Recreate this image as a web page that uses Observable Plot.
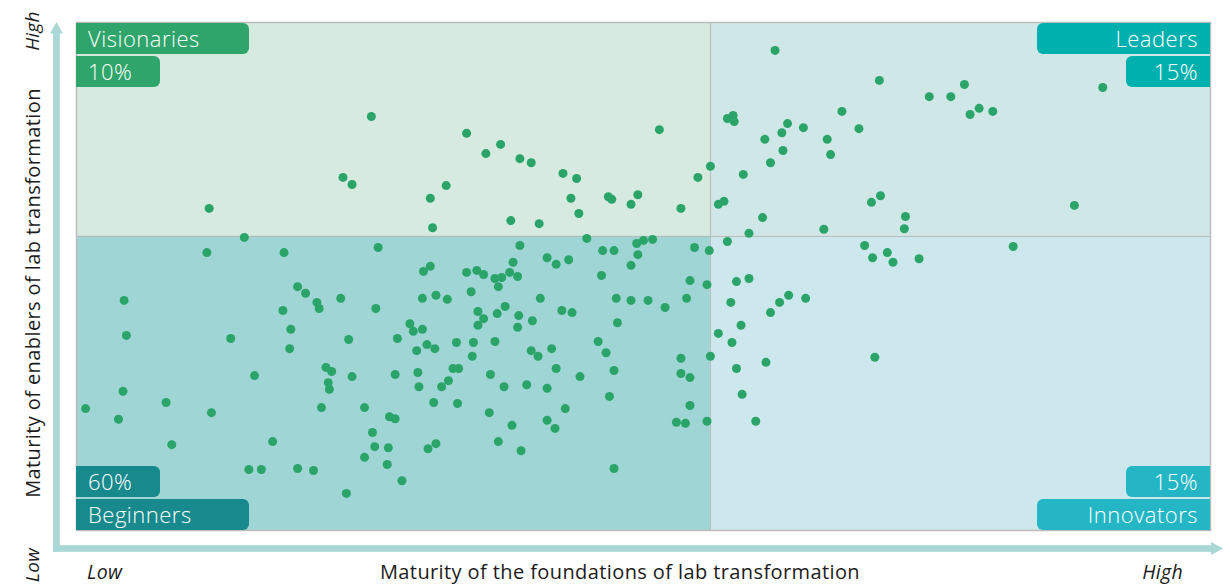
<!DOCTYPE html>
<html><head><meta charset="utf-8">
<script src="https://cdn.jsdelivr.net/npm/d3@7"></script>
<script src="https://cdn.jsdelivr.net/npm/@observablehq/plot@0.6"></script>
<style>
html,body{margin:0;padding:0;background:#fff;}
#chart{width:1230px;height:584px;}
</style>
</head><body><div id="chart"></div>
<script>
// Maturity of the foundations (x) and of the enablers (y), 0–100 scale
const foundations = [
  26.0, 23.5, 24.3, 11.7, 14.8,
  34.4, 36.1, 37.4, 39.1, 40.1, 42.9, 44.1, 43.6, 44.3, 46.9, 47.2, 48.9, 49.5, 51.4, 53.3, 54.8, 55.9, 31.2, 32.6, 31.4, 38.3, 40.8, 45.0, 50.0, 50.8,
  61.6, 70.8, 75.2, 77.1, 78.3, 78.8, 79.6, 80.8, 57.4, 57.9, 58.0, 62.7, 62.2, 64.1, 60.7, 62.3, 61.2, 67.5, 69.0, 66.2, 66.5, 58.8, 56.6, 57.1, 60.5, 59.3, 65.9, 70.1, 70.9, 73.1, 73.0, 57.4,
  90.5, 88.0,
  11.5, 18.3, 26.6, 19.5, 20.2, 21.2, 21.4, 23.3, 18.2, 26.4, 4.2, 4.4, 13.6, 18.9, 18.8, 24.0, 22.0, 22.5, 24.3, 15.7, 28.3, 28.1,
  22.2, 22.3, 4.1, 0.8, 3.7, 7.9, 11.9, 8.4, 17.3, 21.6, 25.4, 27.6, 26.1, 26.3, 27.5, 25.4, 27.4, 15.2, 16.3, 19.5, 20.9, 23.8, 28.1,
  39.1, 41.5, 42.3, 43.4, 38.5, 38.2, 38.9, 34.4, 35.3, 35.9, 36.9, 37.5, 31.2, 30.6, 34.8, 37.2, 46.4, 47.4, 46.3, 49.4, 49.5, 48.9, 54.5, 55.8, 54.1, 53.8, 55.6, 47.6, 48.9, 50.4, 51.9, 47.7, 40.9, 42.8, 43.7, 40.2, 39.0, 38.9, 35.4, 35.9, 37.1, 37.8, 35.4, 31.7, 30.5, 32.7, 30.5, 31.6, 29.4, 29.7, 30.0, 30.9, 33.5, 35.0, 36.9, 34.9, 33.2, 33.7, 32.8, 32.2, 30.1, 30.2, 31.5, 33.6, 36.5, 37.7, 39.7, 41.5, 40.1, 40.7, 41.9, 42.3, 46.0, 46.7, 44.4, 36.4, 38.4, 43.1, 41.5, 42.2, 37.2, 39.2, 47.4, 47.0, 53.3, 53.3, 54.1, 52.9, 53.7, 55.6, 54.1, 47.4, 31.0, 31.7, 28.7,
  69.5, 70.2, 71.5, 72.0, 74.3, 82.6, 58.2, 59.3, 57.7, 61.2, 62.0, 62.8, 64.3, 58.6, 56.6, 57.8, 55.9, 60.8, 58.2, 58.7, 59.9, 70.4
];
const enablers = [
  81.5, 69.5, 68.1, 63.4, 57.7,
  78.2, 74.2, 76.0, 73.2, 72.4, 70.3, 69.3, 65.4, 62.4, 65.7, 65.2, 64.2, 66.1, 78.9, 63.4, 69.5, 71.7, 65.4, 67.9, 59.6, 61.0, 60.4, 57.5, 57.1, 57.3,
  94.5, 88.6, 85.4, 85.4, 87.8, 81.9, 83.1, 82.5, 81.1, 81.7, 80.5, 80.1, 78.3, 79.3, 77.0, 74.8, 72.4, 82.5, 79.1, 77.0, 74.0, 70.1, 64.2, 64.8, 61.6, 58.5, 59.3, 64.6, 65.9, 61.8, 59.4, 56.9,
  87.2, 64.0,
  54.7, 54.7, 55.7, 48.0, 46.7, 44.9, 43.7, 45.7, 43.3, 43.7, 45.3, 38.4, 37.8, 39.6, 35.8, 37.6, 32.1, 31.3, 30.3, 30.5, 37.8, 30.7,
  29.1, 27.8, 27.4, 24.0, 21.9, 25.2, 23.2, 16.9, 17.5, 24.2, 24.2, 22.4, 19.3, 16.5, 16.3, 14.4, 13.0, 12.0, 12.0, 12.2, 11.8, 7.3, 22.0,
  56.1, 53.7, 52.4, 53.3, 52.8, 50.8, 50.0, 50.8, 51.2, 50.4, 49.6, 49.8, 52.0, 51.0, 47.0, 48.0, 55.1, 55.1, 50.2, 56.5, 54.3, 52.2, 55.7, 55.1, 49.2, 45.7, 48.4, 45.7, 45.3, 45.3, 43.9, 40.9, 45.7, 43.3, 42.9, 41.3, 42.3, 40.0, 43.1, 41.7, 42.7, 44.1, 40.4, 46.3, 45.7, 45.5, 39.6, 35.8, 40.7, 39.2, 35.4, 36.6, 37.0, 37.0, 37.2, 34.3, 31.9, 31.9, 29.5, 28.3, 31.1, 28.3, 25.2, 25.0, 30.7, 28.3, 28.7, 28.0, 35.4, 34.3, 35.8, 31.9, 37.2, 35.0, 30.3, 23.2, 20.7, 24.0, 21.7, 20.1, 17.5, 15.7, 31.5, 26.4, 33.9, 30.9, 30.1, 21.3, 21.1, 21.5, 24.6, 12.2, 16.1, 17.1, 9.8,
  56.1, 53.7, 54.7, 52.8, 53.5, 55.9, 49.0, 49.6, 44.9, 42.9, 44.9, 46.3, 45.7, 40.4, 38.8, 37.0, 34.3, 33.1, 31.9, 26.8, 21.5, 34.1
];

const quadrantNames  = ["Visionaries", "Leaders", "Beginners", "Innovators"];
const quadrantShares = ["10%", "15%", "60%", "15%"];
const quadrantFills  = ["#d6eadf", "#cfe7e6", "#9fd5d4", "#cde8ec"];
const labelFills     = ["#2fa56b", "#00b0ae", "#188a8d", "#24b6c4"];
const xEndLabels = ["Low", "High"];
const yEndLabels = ["Low", "High"];
const xTitle = "Maturity of the foundations of lab transformation";
const yTitle = "Maturity of enablers of lab transformation";
const xSplit = 55.9, ySplit = 57.9;

const points = foundations.map((v, i) => ({x: v, y: enablers[i]}));
const quads = [
  {x1: 0, x2: xSplit, y1: ySplit, y2: 100},
  {x1: xSplit, x2: 100, y1: ySplit, y2: 100},
  {x1: 0, x2: xSplit, y1: 0, y2: ySplit},
  {x1: xSplit, x2: 100, y1: 0, y2: ySplit}
].map((q, i) => ({...q, fill: quadrantFills[i]}));

const FONT = "'Open Sans', 'Noto Sans', sans-serif";

const plot = Plot.plot({
  width: 1230, height: 584,
  marginLeft: 76, marginRight: 20, marginTop: 22, marginBottom: 54,
  x: {domain: [0, 100], axis: null},
  y: {domain: [0, 100], axis: null},
  color: {type: "identity"},
  style: {background: "white", fontFamily: FONT},
  marks: [
    Plot.rect(quads, {x1: "x1", x2: "x2", y1: "y1", y2: "y2", fill: "fill"}),
    Plot.ruleX([xSplit], {stroke: "#b8b8b8", strokeWidth: 1}),
    Plot.ruleY([ySplit], {stroke: "#b8b8b8", strokeWidth: 1}),
    Plot.frame({stroke: "#bdbdbd", strokeWidth: 1.5}),
    Plot.dot(points, {x: "x", y: "y", r: 4.5, fill: "#2ba46a", stroke: "none"})
  ]
});
document.getElementById("chart").appendChild(plot);

const xs = plot.scale("x"), ys = plot.scale("y");
const L = xs.apply(0), R = xs.apply(100), T = ys.apply(100), B = ys.apply(0);
const svg = d3.select(plot);
const deco = svg.append("g");

// arrows
const arrowColor = "#a8d7d5";
const ax = L - 19.5, ay = B + 18.5;
deco.append("rect").attr("x", ax - 3.3).attr("y", T + 10).attr("width", 6.6).attr("height", ay + 3.3 - (T + 10)).attr("fill", arrowColor);
deco.append("path").attr("d", `M${ax},${T} L${ax + 6.5},${T + 11.5} L${ax - 6.5},${T + 11.5} Z`).attr("fill", arrowColor);
deco.append("rect").attr("x", ax - 3.3).attr("y", ay - 3.3).attr("width", R + 1 - (ax - 3.3)).attr("height", 6.6).attr("fill", arrowColor);
deco.append("path").attr("d", `M${R + 13},${ay} L${R + 1},${ay - 6.5} L${R + 1},${ay + 6.5} Z`).attr("fill", arrowColor);

// quadrant label boxes
function boxPath(x, y, w, h, r, flush) {
  if (flush === "left")
    return `M${x},${y}H${x + w - r}A${r},${r} 0 0 1 ${x + w},${y + r}V${y + h - r}A${r},${r} 0 0 1 ${x + w - r},${y + h}H${x}Z`;
  return `M${x + w},${y}H${x + r}A${r},${r} 0 0 0 ${x},${y + r}V${y + h - r}A${r},${r} 0 0 0 ${x + r},${y + h}H${x + w}Z`;
}
const nameW = 173, shareW = 84, boxH = 31, gap = 2;
quadrantNames.forEach((name, i) => {
  const left = i % 2 === 0;
  const top = i < 2;
  const flush = left ? "left" : "right";
  const nameY = top ? T + 1 : B - boxH;
  const shareY = top ? T + 1 + boxH + gap : B - 2 * boxH - gap;
  const nx = left ? L : R - nameW;
  const sx = left ? L : R - shareW;
  deco.append("path").attr("d", boxPath(nx, nameY, nameW, boxH, 6, flush)).attr("fill", labelFills[i]);
  deco.append("path").attr("d", boxPath(sx, shareY, shareW, boxH, 6, flush)).attr("fill", labelFills[i]);
  const tx = left ? L + 12 : R - 12;
  const anchor = left ? "start" : "end";
  [[name, nameY], [quadrantShares[i], shareY]].forEach(([t, y]) => {
    deco.append("text").text(t)
      .attr("x", tx).attr("y", y + boxH / 2 + 8)
      .attr("text-anchor", anchor)
      .attr("fill", "#ffffff")
      .style("font-family", FONT).style("font-size", "22px").style("font-weight", 300)
      .style("letter-spacing", "0.5px");
  });
});

// axis texts
const txt = (s, x, y, opts = {}) => {
  const t = deco.append("text").text(s)
    .attr("fill", "#1b1b1b")
    .style("font-family", FONT)
    .style("font-size", (opts.size || 20) + "px")
    .style("letter-spacing", (opts.spacing ?? 0.4) + "px")
    .style("font-style", opts.italic ? "italic" : "normal")
    .attr("text-anchor", opts.anchor || "middle");
  if (opts.rotate) t.attr("transform", `translate(${x},${y}) rotate(-90)`);
  else t.attr("x", x).attr("y", y);
  return t;
};
txt(xTitle, (L + R) / 2 - 23, 579);
txt(yTitle, 40, (T + B) / 2 + 17, {rotate: true});
txt(xEndLabels[0], L + 11, 579, {italic: true, size: 19.5, anchor: "start", spacing: 0.3});
txt(xEndLabels[1], R - 27, 579, {italic: true, size: 19.5, anchor: "end", spacing: 0.3});
txt(yEndLabels[1], 39, T + 9, {italic: true, size: 19, rotate: true, spacing: 0.3});
txt(yEndLabels[0], 39, 565, {italic: true, size: 19, rotate: true, spacing: 0.3});
</script>
</body></html>
